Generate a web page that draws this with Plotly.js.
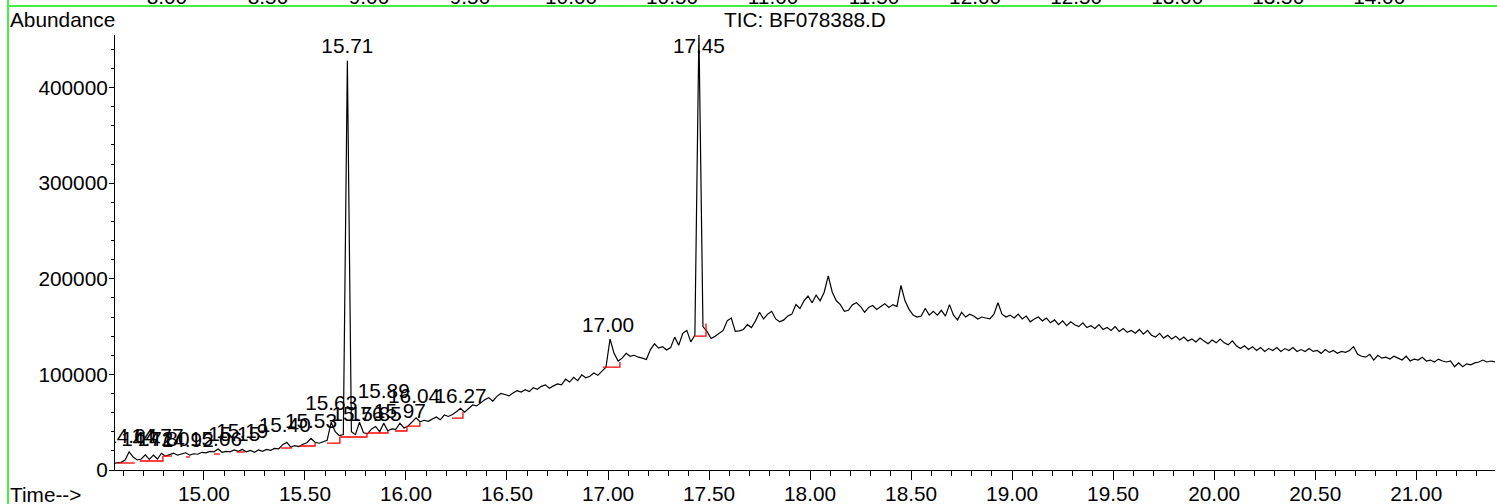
<!DOCTYPE html>
<html>
<head>
<meta charset="utf-8">
<script src="https://cdn.plot.ly/plotly-3.0.1.min.js"></script>
<style>
  html, body { margin: 0; padding: 0; background: #fff; }
  #tic { width: 1497px; height: 504px; }
</style>
</head>
<body>
<div id="tic"></div>
<script>
// TIC of BF078388.D, one value every 0.02 min starting at 14.55 min
var scanStart = 14.55;
var scanStep = 0.02;
var abundance = [
    7000, 7500, 8000, 10500, 19000, 13500, 10500, 11500, 15800, 11000,
    15500, 11500, 17500, 14500, 16000, 17500, 15500, 16500, 18000, 15500,
    17000, 16500, 18500, 18000, 19500, 19000, 22000, 18500, 19500, 19000,
    21000, 19500, 21500, 19000, 20500, 18500, 21000, 19500, 21500, 20500,
    22500, 22000, 26500, 29000, 24000, 25500, 24500, 27000, 28500, 33000,
    29000, 28000, 29500, 31000, 50000, 40000, 36000, 37000, 428000, 40000,
    37000, 50000, 39000, 38000, 43000, 45500, 40000, 49000, 41000, 43000,
    42500, 49000, 44000, 46000, 50000, 54500, 50500, 52000, 51000, 53000,
    55500, 52500, 57500, 56000, 58000, 61000, 64500, 60500, 64000, 68000,
    67000, 70000, 73500, 75500, 72000, 77000, 80000, 79000, 77500, 80500,
    83000, 81500, 84000, 82000, 86000, 84500, 87500, 89000, 85500, 88000,
    90000, 89000, 95000, 92000, 97000, 93500, 99500, 96500, 98000, 101500,
    99000, 103500, 107500, 137000, 122000, 114000, 117000, 122000, 119000, 120000,
    118000, 117000, 115500, 126000, 132000, 127500, 129000, 125500, 128000, 139000,
    130500, 143000, 146000, 134000, 141000, 458000, 150000, 145000, 137500, 140000,
    143000, 146000, 156000, 159000, 145000, 145500, 147000, 152000, 149000, 156000,
    165000, 158000, 163000, 166000, 158000, 155000, 157000, 161000, 163000, 173000,
    169000, 177000, 182000, 175000, 183000, 177000, 186000, 203000, 186000, 177000,
    173000, 166000, 167000, 173000, 175000, 171000, 165000, 170000, 172000, 168000,
    171000, 174000, 170000, 173000, 171000, 193000, 177000, 168000, 162000, 160000,
    161000, 169000, 162000, 166000, 162000, 167000, 161000, 173000, 162000, 157000,
    165000, 160000, 163000, 161000, 158000, 160000, 159000, 158000, 163000, 175000,
    163000, 160000, 162000, 159000, 163000, 158000, 161000, 155000, 158000, 160000,
    156000, 159000, 154000, 157000, 152000, 156000, 151000, 155000, 152000, 150000,
    154000, 149000, 151000, 148000, 152000, 147000, 149000, 146000, 150000, 145000,
    148000, 144000, 146000, 143000, 147000, 142000, 146000, 141000, 139000, 143000,
    138000, 141000, 137000, 140000, 136000, 139000, 135000, 137000, 134000, 138000,
    135000, 132000, 136000, 133000, 137000, 133000, 131000, 135000, 130000, 127000,
    130000, 126000, 129000, 125000, 128000, 124000, 127000, 125000, 128000, 124000,
    127000, 125000, 128000, 124000, 126000, 124000, 127000, 124000, 125000, 122000,
    126000, 123000, 125000, 122000, 124000, 123000, 125000, 129000, 121000, 119000,
    118000, 121000, 115000, 120000, 117000, 118000, 116000, 119000, 117000, 115000,
    119000, 114000, 116000, 115000, 118000, 114000, 115000, 113000, 116000, 114000,
    113000, 114000, 108000, 112000, 108000, 111000, 110000, 112000, 113000, 115000,
    113000, 114000, 113000
];

// peak labels (retention time, text, height the label sits on)
var labelTimes = [14.64, 14.72, 14.77, 14.80, 14.92, 15.06, 15.15, 15.19, 15.40, 15.53,
                  15.63, 15.71, 15.76, 15.85, 15.89, 15.97, 16.04, 16.27, 17.00, 17.45];
var labelTexts = ["14.64", "14.72", "14.77", "14.80", "14.92", "15.06", "15.15", "15.19", "15.40", "15.53",
                  "15.63", "15.71", "15.76", "15.85", "15.89", "15.97", "16.04", "16.27", "17.00", "17.45"];
var labelLevels = [23000, 19900, 23000, 19900, 18800, 19900, 25100, 28200, 34500, 38700,
                   57500, 430500, 46000, 46000, 70000, 49100, 64800, 64800, 139000, 430500];

// integration baselines
var baseStart = [14.574, 14.683, 14.797, 14.911, 15.050, 15.163, 15.381, 15.475,
                 15.609, 15.673, 15.812, 15.946, 16.010, 16.228, 16.975, 17.426];
var baseEnd = [14.658, 14.797, 14.842, 14.931, 15.079, 15.203, 15.436, 15.550,
               15.673, 15.807, 15.911, 16.005, 16.069, 16.282, 17.059, 17.485];
var baseLevel = [7300, 9400, 14600, 13600, 16700, 18800, 23000, 25100,
                 28200, 34500, 38700, 40800, 45900, 54300, 107600, 140000];
var baseEndLevel = [7300, 14600, 14600, 13600, 16700, 18800, 23000, 28200,
                    34500, 38700, 40800, 45900, 50000, 61000, 112900, 153300];

var font = "Liberation Sans, Arial, sans-serif";
var fsize = 20.8;

var bx = [];
var by = [];
for (var i = 0; i < baseStart.length; i++) {
    bx.push(baseStart[i], baseEnd[i], baseEnd[i], null);
    by.push(baseLevel[i], baseLevel[i], baseEndLevel[i], null);
}

var signal = {
    type: "scatter",
    mode: "lines",
    x0: scanStart,
    dx: scanStep,
    y: abundance,
    line: {color: "#000000", width: 1.2},
    hoverinfo: "none"
};
var baselines = {
    type: "scatter",
    mode: "lines",
    x: bx,
    y: by,
    line: {color: "#ff0000", width: 1.3},
    connectgaps: false,
    hoverinfo: "none"
};
var labels = {
    type: "scatter",
    mode: "text",
    x: labelTimes,
    y: labelLevels,
    text: labelTexts,
    textposition: "top center",
    textfont: {family: font, size: fsize, color: "#000000"},
    cliponaxis: true,
    hoverinfo: "none"
};
// the axis of the chart above, mostly cut off by the page edge
var upper = {
    type: "scatter",
    mode: "lines",
    x: [],
    y: [],
    xaxis: "x2",
    hoverinfo: "none"
};

var layout = {
    width: 1497,
    height: 504,
    margin: {l: 115, r: 2, t: 35, b: 34, pad: 0},
    paper_bgcolor: "#ffffff",
    plot_bgcolor: "#ffffff",
    showlegend: false,
    font: {family: font, size: fsize, color: "#000000"},
    xaxis: {
        range: [14.56, 21.39],
        tickmode: "linear",
        tick0: 15,
        dtick: 0.5,
        tickformat: ".2f",
        ticks: "outside",
        ticklen: 9,
        tickwidth: 1,
        tickcolor: "#000000",
        ticklabelstandoff: -4,
        showline: true,
        linecolor: "#000000",
        linewidth: 1,
        showgrid: false,
        zeroline: false,
        minor: {tick0: 15, dtick: 0.1, ticks: "outside", ticklen: 5, tickcolor: "#000000", showgrid: false}
    },
    xaxis2: {
        overlaying: "x",
        side: "top",
        anchor: "y",
        range: [7.743, 14.573],
        tickmode: "linear",
        tick0: 8,
        dtick: 0.5,
        tickformat: ".2f",
        ticks: "",
        showline: false,
        showgrid: false,
        zeroline: false,
        ticklabelstandoff: 26
    },
    yaxis: {
        range: [0, 455000],
        tickmode: "linear",
        tick0: 0,
        dtick: 100000,
        tickformat: "d",
        ticks: "outside",
        ticklen: 5,
        tickcolor: "#000000",
        ticklabelstandoff: -3,
        showline: true,
        linecolor: "#000000",
        linewidth: 1,
        showgrid: false,
        zeroline: false,
        minor: {dtick: 20000, ticks: "outside", ticklen: 3, tickcolor: "#000000", showgrid: false}
    },
    annotations: [
        {xref: "paper", yref: "paper", x: -0.0775, y: 1.0345, xanchor: "left", yanchor: "middle",
         text: "Abundance", showarrow: false},
        {xref: "paper", yref: "paper", x: 0.5, y: 1.0345, xanchor: "center", yanchor: "middle",
         text: "TIC: BF078388.D", showarrow: false},
        {xref: "paper", yref: "paper", x: -0.0775, y: -0.0552, xanchor: "left", yanchor: "middle",
         text: "Time-->", showarrow: false},
        {xref: "paper", yref: "paper", x: -0.0775, y: 1.071, xanchor: "left", yanchor: "bottom",
         text: "Time-->", showarrow: false}
    ],
    shapes: [
        {type: "line", xref: "paper", yref: "paper", x0: -0.0783, x1: 1.002, y0: 1.0667, y1: 1.0667,
         line: {color: "#44ee44", width: 2}},
        {type: "line", xref: "paper", yref: "paper", x0: -0.0775, x1: -0.0775, y0: 1.081, y1: -0.079,
         line: {color: "#44ee44", width: 2}}
    ]
};

Plotly.newPlot("tic", [signal, baselines, labels, upper], layout, {displayModeBar: false, staticPlot: true});
</script>
</body>
</html>
